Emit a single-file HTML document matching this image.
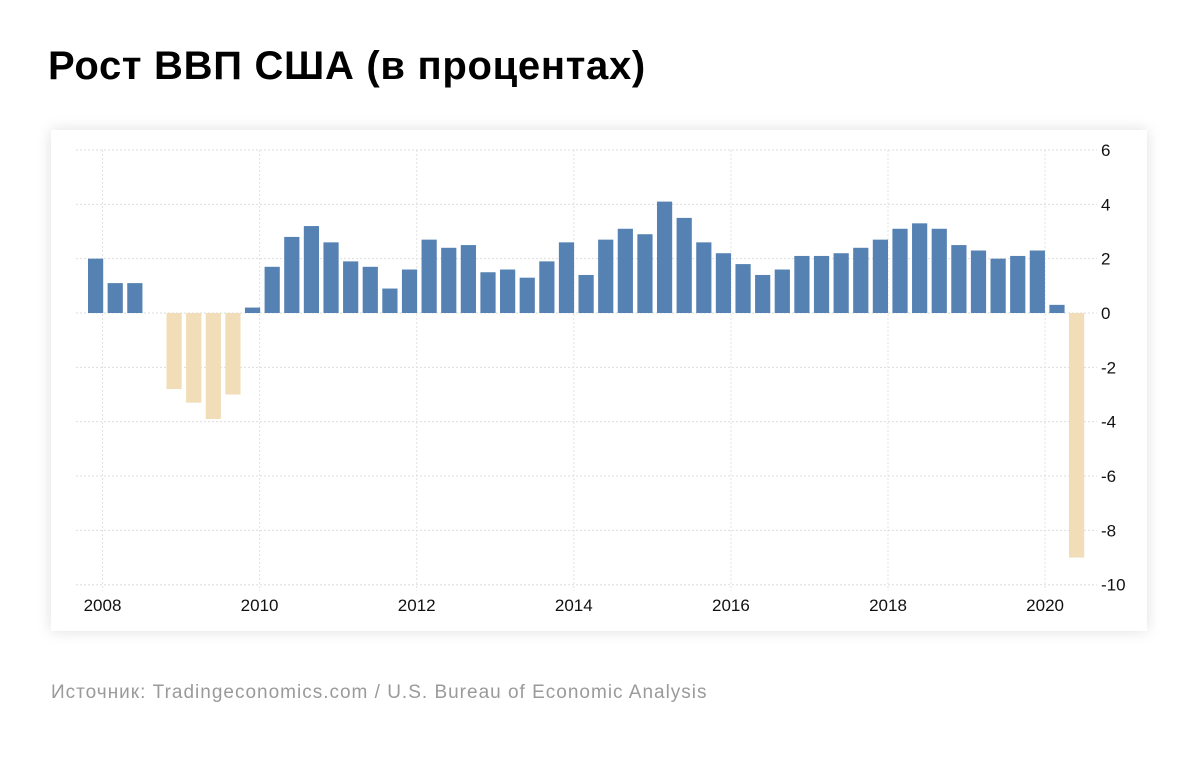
<!DOCTYPE html>
<html><head><meta charset="utf-8"><style>
body{margin:0;width:1200px;height:760px;background:#fff;font-family:"Liberation Sans",sans-serif;overflow:hidden;position:relative}
h1{position:absolute;left:48px;top:44px;margin:0;font-size:40px;font-weight:bold;color:#000;letter-spacing:0.7px}
.card{position:absolute;left:51px;top:130px;width:1096px;height:501px;background:#fff;box-shadow:0 0 14px rgba(0,0,0,0.13)}
.src{position:absolute;left:51px;top:682px;font-size:19px;color:#9a9a9a;letter-spacing:1px}
svg{position:absolute;left:0;top:0}
</style></head><body>
<h1>Рост ВВП США (в процентах)</h1>
<div class="card"></div>
<svg width="1200" height="760" id="s"></svg>
<div class="src">Источник: Tradingeconomics.com / U.S. Bureau of Economic Analysis</div>
<script>
const vals=[2.0,1.1,1.1,0,-2.8,-3.3,-3.9,-3.0,0.2,1.7,2.8,3.2,2.6,1.9,1.7,0.9,1.6,2.7,2.4,2.5,1.5,1.6,1.3,1.9,2.6,1.4,2.7,3.1,2.9,4.1,3.5,2.6,2.2,1.8,1.4,1.6,2.1,2.1,2.2,2.4,2.7,3.1,3.3,3.1,2.5,2.3,2.0,2.1,2.3,0.3,-9.0];
const y0=313,u=27.17;let h='';
for(let v=6;v>=-10;v-=2){const y=y0-v*u;h+=`<line x1="76" x2="1097" y1="${y}" y2="${y}" stroke="#ddd" stroke-dasharray="2,2"/>`;
h+=`<text x="1101" y="${y+6}" font-size="17" fill="#111">${v}</text>`;}
const yrs=[2008,2010,2012,2014,2016,2018,2020];
yrs.forEach((yr,i)=>{const x=102.5+i*157.1;h+=`<line x1="${x}" x2="${x}" y1="150" y2="591" stroke="#e2e2e2" stroke-dasharray="2,2"/>`;
h+=`<text x="${x}" y="611" font-size="17" fill="#111" text-anchor="middle">${yr}</text>`;});
vals.forEach((v,i)=>{if(v===0)return;const x=88+i*19.62;const t=v>0?y0-v*u:y0;const hh=Math.abs(v)*u;
h+=`<rect x="${x}" y="${t}" width="15.2" height="${hh}" fill="${v>0?'#5582b2':'#f1ddb8'}"/>`;});
document.getElementById('s').innerHTML=h;
</script>
</body></html>
